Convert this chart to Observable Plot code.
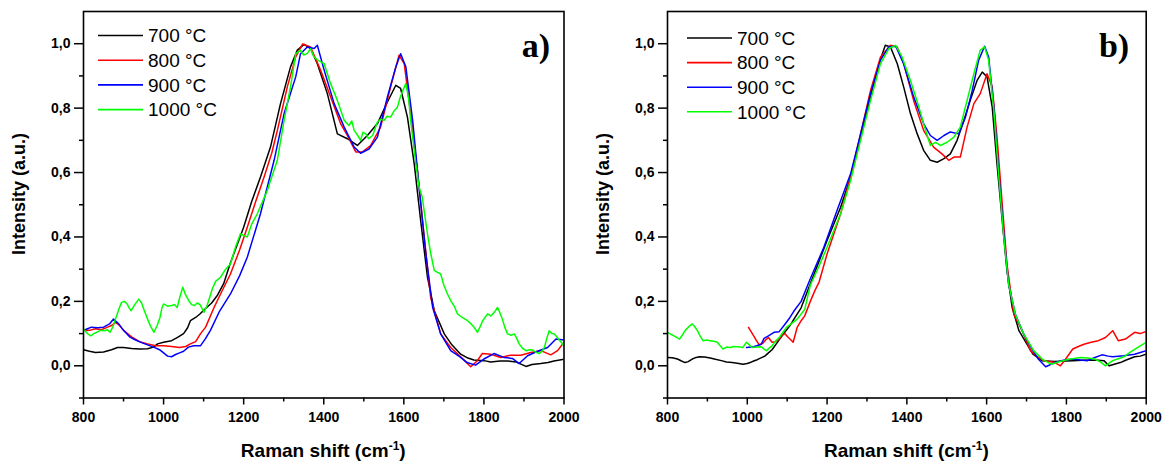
<!DOCTYPE html>
<html><head><meta charset="utf-8">
<script src="https://cdn.jsdelivr.net/npm/d3@7"></script>
<script src="https://cdn.jsdelivr.net/npm/@observablehq/plot@0.6"></script>
<style>
html,body{margin:0;padding:0;background:#fff;}
#wrap{display:flex;width:1169px;height:463px;}
svg{font-family:"Liberation Sans",Arial,sans-serif;}
</style></head><body><div id="wrap"></div>
<script>
const seriesNames = ["700 °C","800 °C","900 °C","1000 °C"];
const seriesColors = ["#000000","#ff0000","#0000ff","#00ff00"];
const xMajor = [800,1000,1200,1400,1600,1800,2000];
const xMinor = [900,1100,1300,1500,1700,1900];
const yMajor = [0,0.2,0.4,0.6,0.8,1.0];
const yMinor = [-0.1,0.1,0.3,0.5,0.7,0.9];
const panelLabels = ["a)","b)"];
const xTitle = "Raman shift (cm-1)";
const yTitle = "Intensity (a.u.)";

// Panel a)
const a700 = [[800,0.05],[815,0.045],[830,0.041],[850,0.043],[870,0.05],[885,0.057],[900,0.057],[920,0.054],[940,0.052],[960,0.053],[975,0.058],[985,0.068],[1000,0.073],[1020,0.078],[1035,0.088],[1050,0.1],[1060,0.118],[1067,0.14],[1080,0.15],[1090,0.16],[1105,0.178],[1120,0.195],[1135,0.22],[1150,0.255],[1167,0.32],[1185,0.38],[1200,0.43],[1220,0.51],[1242,0.586],[1267,0.679],[1292,0.814],[1317,0.928],[1334,0.98],[1351,0.998],[1367,0.985],[1384,0.938],[1409,0.845],[1434,0.72],[1459,0.705],[1484,0.684],[1509,0.715],[1534,0.752],[1559,0.819],[1580,0.871],[1592,0.861],[1609,0.772],[1626,0.627],[1642,0.451],[1659,0.275],[1676,0.171],[1701,0.099],[1720,0.065],[1742,0.036],[1760,0.024],[1775,0.018],[1800,0.016],[1817,0.012],[1840,0.015],[1859,0.015],[1880,0.012],[1905,-0.002],[1920,0.004],[1942,0.007],[1960,0.01],[1975,0.015],[2000,0.02]];
const a800 = [[800,0.11],[815,0.11],[830,0.115],[845,0.112],[860,0.12],[870,0.125],[880,0.135],[890,0.125],[900,0.11],[920,0.09],[940,0.075],[960,0.068],[980,0.062],[1000,0.062],[1020,0.06],[1040,0.057],[1055,0.06],[1067,0.068],[1080,0.075],[1092,0.099],[1105,0.12],[1126,0.181],[1145,0.23],[1167,0.285],[1190,0.36],[1209,0.43],[1230,0.51],[1251,0.586],[1270,0.66],[1284,0.73],[1309,0.866],[1330,0.959],[1347,0.999],[1367,0.99],[1392,0.918],[1417,0.835],[1442,0.752],[1459,0.715],[1480,0.664],[1497,0.664],[1517,0.684],[1542,0.741],[1567,0.866],[1588,0.964],[1601,0.938],[1617,0.783],[1634,0.607],[1651,0.4],[1667,0.212],[1692,0.099],[1717,0.057],[1740,0.03],[1755,0.012],[1767,-0.003],[1783,0.015],[1796,0.038],[1817,0.036],[1842,0.026],[1867,0.033],[1892,0.033],[1917,0.041],[1942,0.047],[1967,0.034],[1984,0.047],[2000,0.073]];
const a900 = [[800,0.11],[810,0.115],[820,0.12],[835,0.118],[850,0.12],[865,0.13],[875,0.145],[888,0.13],[900,0.11],[915,0.09],[930,0.08],[945,0.072],[960,0.065],[975,0.058],[990,0.05],[1000,0.04],[1010,0.03],[1020,0.028],[1030,0.035],[1040,0.04],[1050,0.045],[1062,0.058],[1075,0.062],[1092,0.062],[1105,0.085],[1117,0.11],[1140,0.17],[1167,0.223],[1190,0.28],[1209,0.337],[1242,0.472],[1276,0.638],[1301,0.783],[1318,0.85],[1330,0.897],[1342,0.969],[1359,0.99],[1376,0.985],[1384,0.995],[1401,0.918],[1426,0.814],[1451,0.741],[1476,0.679],[1492,0.66],[1513,0.673],[1534,0.71],[1559,0.835],[1580,0.928],[1592,0.969],[1605,0.928],[1622,0.762],[1638,0.555],[1655,0.347],[1672,0.181],[1692,0.099],[1717,0.047],[1742,0.026],[1758,0.01],[1779,0.002],[1800,0.021],[1825,0.038],[1850,0.026],[1871,0.023],[1888,0.007],[1909,0.031],[1934,0.045],[1959,0.057],[1980,0.083],[2000,0.08]];
const a1000 = [[800,0.114],[810,0.1],[818,0.093],[826,0.1],[833,0.104],[842,0.11],[852,0.109],[860,0.112],[866,0.104],[873,0.12],[880,0.145],[888,0.175],[895,0.197],[902,0.2],[909,0.192],[914,0.18],[919,0.171],[928,0.19],[938,0.207],[945,0.195],[952,0.171],[960,0.145],[967,0.124],[976,0.104],[984,0.125],[991,0.15],[996,0.18],[1000,0.192],[1010,0.185],[1020,0.187],[1027,0.19],[1034,0.181],[1041,0.215],[1048,0.244],[1055,0.22],[1063,0.202],[1070,0.19],[1077,0.187],[1084,0.195],[1091,0.19],[1096,0.178],[1101,0.166],[1108,0.185],[1115,0.212],[1122,0.24],[1130,0.262],[1142,0.275],[1155,0.3],[1167,0.316],[1180,0.37],[1192,0.41],[1200,0.405],[1209,0.4],[1220,0.44],[1234,0.472],[1259,0.544],[1284,0.638],[1301,0.762],[1317,0.866],[1330,0.969],[1342,0.98],[1350,0.965],[1359,0.97],[1367,0.985],[1375,0.96],[1384,0.95],[1401,0.938],[1417,0.876],[1434,0.824],[1451,0.762],[1463,0.746],[1470,0.76],[1476,0.731],[1485,0.715],[1492,0.7],[1498,0.725],[1505,0.72],[1512,0.705],[1522,0.715],[1534,0.757],[1542,0.765],[1551,0.762],[1558,0.775],[1567,0.772],[1575,0.79],[1584,0.803],[1590,0.83],[1596,0.85],[1605,0.876],[1612,0.83],[1617,0.762],[1624,0.69],[1630,0.627],[1638,0.555],[1646,0.524],[1652,0.47],[1659,0.41],[1667,0.35],[1676,0.296],[1684,0.29],[1692,0.285],[1700,0.25],[1709,0.223],[1718,0.2],[1726,0.185],[1734,0.161],[1746,0.15],[1759,0.14],[1768,0.13],[1776,0.119],[1784,0.104],[1790,0.12],[1797,0.14],[1809,0.161],[1817,0.155],[1826,0.166],[1834,0.181],[1840,0.165],[1846,0.145],[1852,0.12],[1859,0.099],[1868,0.095],[1876,0.099],[1882,0.085],[1888,0.068],[1896,0.055],[1905,0.047],[1914,0.05],[1922,0.049],[1930,0.042],[1938,0.038],[1945,0.045],[1951,0.057],[1957,0.085],[1963,0.109],[1970,0.1],[1976,0.099],[1982,0.09],[1988,0.08],[1995,0.07],[2000,0.06]];

// Panel b)
const b700 = [[800,0.026],[812,0.025],[825,0.021],[835,0.015],[844,0.01],[852,0.013],[862,0.021],[872,0.026],[880,0.028],[893,0.027],[907,0.024],[920,0.02],[935,0.016],[948,0.012],[962,0.01],[975,0.008],[989,0.005],[1000,0.007],[1007,0.01],[1016,0.015],[1025,0.019],[1033,0.024],[1044,0.03],[1053,0.04],[1062,0.05],[1075,0.072],[1090,0.098],[1107,0.125],[1117,0.145],[1135,0.18],[1158,0.255],[1180,0.325],[1200,0.389],[1234,0.492],[1259,0.586],[1284,0.71],[1309,0.835],[1330,0.938],[1346,0.995],[1359,0.99],[1376,0.938],[1392,0.866],[1409,0.783],[1426,0.72],[1442,0.669],[1459,0.638],[1476,0.632],[1493,0.643],[1509,0.658],[1526,0.7],[1543,0.762],[1559,0.824],[1576,0.886],[1589,0.912],[1601,0.897],[1614,0.804],[1626,0.627],[1639,0.451],[1651,0.295],[1664,0.181],[1681,0.109],[1701,0.067],[1716,0.036],[1739,0.016],[1771,0.013],[1800,0.015],[1816,0.016],[1840,0.017],[1862,0.018],[1880,0.017],[1894,0.016],[1907,0.0],[1920,0.005],[1935,0.01],[1950,0.018],[1971,0.028],[1985,0.03],[2000,0.036]];
const b800 = [[1003,0.119],[1010,0.105],[1016,0.093],[1023,0.078],[1030,0.065],[1039,0.07],[1046,0.08],[1053,0.088],[1062,0.073],[1070,0.075],[1080,0.083],[1087,0.095],[1094,0.1],[1101,0.09],[1107,0.083],[1115,0.073],[1125,0.119],[1135,0.14],[1144,0.155],[1158,0.2],[1170,0.235],[1180,0.26],[1200,0.347],[1234,0.472],[1259,0.586],[1284,0.72],[1309,0.855],[1334,0.959],[1359,0.995],[1376,0.99],[1392,0.938],[1417,0.824],[1442,0.731],[1467,0.679],[1488,0.658],[1505,0.638],[1518,0.648],[1534,0.648],[1551,0.741],[1568,0.814],[1584,0.845],[1601,0.907],[1614,0.866],[1626,0.71],[1639,0.503],[1651,0.316],[1668,0.16],[1689,0.109],[1710,0.047],[1725,0.03],[1744,0.016],[1771,0.01],[1785,0.0],[1798,0.021],[1816,0.052],[1830,0.06],[1844,0.067],[1862,0.073],[1880,0.078],[1898,0.088],[1916,0.109],[1930,0.078],[1948,0.083],[1971,0.104],[1985,0.1],[2000,0.107]];
const b900 = [[998,0.057],[1016,0.059],[1035,0.067],[1042,0.085],[1053,0.093],[1067,0.104],[1080,0.106],[1092,0.125],[1107,0.15],[1117,0.17],[1135,0.2],[1158,0.27],[1192,0.368],[1225,0.482],[1259,0.596],[1284,0.72],[1309,0.845],[1334,0.949],[1355,0.99],[1372,0.992],[1392,0.938],[1417,0.835],[1442,0.752],[1459,0.715],[1476,0.7],[1493,0.715],[1509,0.726],[1530,0.72],[1547,0.772],[1564,0.855],[1580,0.949],[1595,0.992],[1605,0.959],[1618,0.804],[1630,0.607],[1643,0.41],[1655,0.254],[1672,0.16],[1693,0.098],[1714,0.052],[1730,0.02],[1748,-0.003],[1771,0.01],[1795,0.018],[1816,0.021],[1835,0.018],[1853,0.016],[1870,0.025],[1889,0.034],[1905,0.03],[1916,0.028],[1944,0.031],[1971,0.036],[2000,0.047]];
const b1000 = [[800,0.104],[808,0.098],[816,0.093],[823,0.088],[830,0.083],[837,0.095],[844,0.109],[852,0.12],[862,0.13],[868,0.122],[875,0.109],[882,0.092],[889,0.078],[898,0.08],[907,0.078],[916,0.076],[925,0.073],[932,0.062],[939,0.052],[948,0.058],[957,0.057],[966,0.06],[975,0.059],[982,0.058],[989,0.057],[995,0.068],[998,0.073],[1005,0.065],[1012,0.057],[1025,0.058],[1035,0.059],[1042,0.052],[1048,0.047],[1055,0.055],[1062,0.062],[1070,0.075],[1080,0.088],[1090,0.105],[1098,0.119],[1110,0.13],[1125,0.145],[1144,0.175],[1158,0.25],[1180,0.31],[1200,0.368],[1234,0.472],[1259,0.575],[1284,0.7],[1309,0.824],[1334,0.938],[1355,0.985],[1372,0.995],[1388,0.959],[1409,0.886],[1430,0.804],[1447,0.731],[1459,0.684],[1472,0.694],[1484,0.684],[1501,0.694],[1518,0.71],[1534,0.741],[1551,0.824],[1568,0.907],[1584,0.98],[1595,0.99],[1605,0.949],[1618,0.793],[1630,0.596],[1643,0.399],[1655,0.254],[1672,0.16],[1693,0.098],[1718,0.047],[1740,0.02],[1762,0.005],[1780,0.012],[1798,0.018],[1815,0.022],[1835,0.026],[1853,0.024],[1871,0.021],[1885,0.012],[1898,0.0],[1907,0.008],[1916,0.016],[1930,0.022],[1944,0.028],[1955,0.038],[1966,0.047],[1980,0.058],[2000,0.073]];

const fmtY = d => d.toFixed(1).replace(".", ",");
const sansFont = "'Liberation Sans', Arial, sans-serif";

function panel(series, label, width, marginRight, labelDx, legend) {
  const rows = [];
  seriesNames.forEach((n, i) => series[i].forEach(([x, y]) => rows.push({x, y, s: n})));
  const svg = Plot.plot({
    width, height: 463,
    marginLeft: 83, marginRight, marginTop: 11, marginBottom: 65.5,
    x: {domain: [800, 2000]},
    y: {domain: [-0.1, 1.1]},
    color: {domain: seriesNames, range: seriesColors},
    style: {fontFamily: sansFont, background: "white", color: "black"},
    marks: [
      Plot.line(rows, {x: "x", y: "y", z: "s", stroke: "s", strokeWidth: 1.5, clip: true}),
      Plot.frame({stroke: "black", strokeWidth: 1.6}),
      Plot.axisX({ticks: xMajor, tickSize: 7, tickPadding: 7, tickFormat: d => String(d), fontSize: 14, fontWeight: "bold", label: null, strokeWidth: 1.5}),
      Plot.axisX({ticks: xMinor, tickSize: 4, tickFormat: () => "", label: null, strokeWidth: 1.5}),
      Plot.axisY({ticks: yMajor, tickSize: 9, tickPadding: 4, tickFormat: fmtY, fontSize: 14, fontWeight: "bold", label: null, strokeWidth: 1.5}),
      Plot.axisY({ticks: yMinor, tickSize: 4, tickFormat: () => "", label: null, strokeWidth: 1.5}),
      Plot.text([label], {frameAnchor: "top-right", text: d => d, fontFamily: "'Liberation Serif', 'Times New Roman', serif", fontWeight: "bold", fontSize: 34, textAnchor: "end", lineAnchor: "middle", dx: labelDx, dy: 35})
    ]
  });
  const root = d3.select(svg);
  // x title with superscript
  const xt = root.append("text")
    .attr("x", 83 + (width - 83 - marginRight) / 2).attr("y", 457)
    .attr("text-anchor", "middle").attr("font-size", 19).attr("font-weight", "bold")
    .attr("font-family", sansFont).attr("fill", "black");
  xt.append("tspan").text("Raman shift (cm");
  xt.append("tspan").attr("font-size", 12).attr("dy", -7).text("-1");
  xt.append("tspan").attr("dy", 7).text(")");
  // y title
  root.append("text")
    .attr("transform", "translate(25,194) rotate(-90)")
    .attr("text-anchor", "middle").attr("font-size", 18).attr("font-weight", "bold")
    .attr("font-family", sansFont).attr("fill", "black").text(yTitle);
  // legend
  const g = root.append("g").attr("font-size", 19).attr("font-family", sansFont).attr("text-anchor", "start");
  seriesNames.forEach((n, i) => {
    const y = legend.y0 + i * legend.step;
    g.append("line").attr("x1", legend.x).attr("x2", legend.x + 45).attr("y1", y).attr("y2", y)
      .attr("stroke", seriesColors[i]).attr("stroke-width", 1.6);
    g.append("text").attr("x", legend.x + 50).attr("y", y).attr("dy", "0.36em").attr("fill", "black").text(n);
  });
  return svg;
}

const wrap = document.getElementById("wrap");
wrap.append(panel([a700, a800, a900, a1000], panelLabels[0], 584, 20.5, -14, {x: 98, y0: 35.5, step: 24.7}));
wrap.append(panel([b700, b800, b900, b1000], panelLabels[1], 585, 23.3, -17, {x: 103, y0: 38, step: 24.6}));
</script></body></html>
